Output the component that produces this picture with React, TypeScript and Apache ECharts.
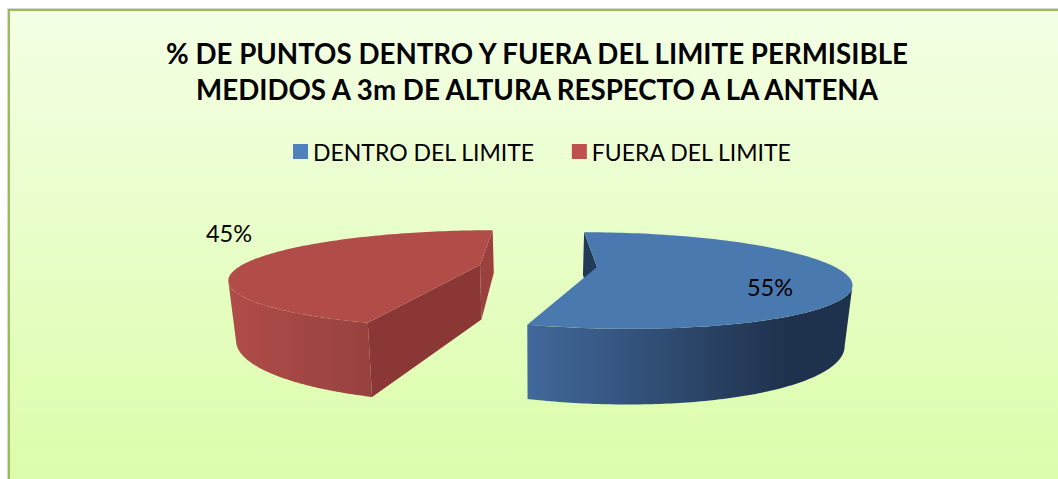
import React, { useEffect, useRef } from "react";
import * as echarts from "echarts";

const categories = ["DENTRO DEL LIMITE", "FUERA DEL LIMITE"];
const values = [55, 45];
const titleLines = [
  "% DE PUNTOS DENTRO Y FUERA DEL LIMITE PERMISIBLE",
  "MEDIDOS A 3m DE ALTURA RESPECTO A LA ANTENA",
];

const WIDTH = 1058;
const HEIGHT = 479;
const FONT = "Lato, Carlito, 'Noto Sans', sans-serif";

// Perspective camera used to project the exploded pie.
const EYE_X = 538;
const TILT = 0.28;
const RADIUS_X = 238;
const RADIUS_Y = 44.5;
const THICKNESS = 54.5;
const BASE_SHRINK = 0.975;
const FRONT_SKEW = 7.2;

// Look of each wedge, in category order. radial = [cut at start angle, cut at end angle].
const wedgeLooks = [
  {
    hub: [597, 267],
    top: "#4A79B0",
    radial: ["#213A58", "#213A58"],
    wall: [
      [0, "#41699B"],
      [0.8, "#1F324D"],
      [1, "#1F324D"],
    ],
    label: [770, 287],
  },
  {
    hub: [480, 265],
    top: "#B14C49",
    radial: ["#8A3735", "#9A413E"],
    wall: [
      [0, "#B04C49"],
      [1, "#97423F"],
    ],
    label: [229, 233],
  },
];

function project(hub: number[], angle: number, r: number) {
  const u = r * Math.sin(angle);
  const v = -r * Math.cos(angle);
  const s = 1 / (1 - TILT * v);
  const dx = hub[0] - EYE_X;
  const skew = (FRONT_SKEW * v * (v + 1)) / 2;
  const x = EYE_X + (dx + RADIUS_X * u + skew) * s;
  const y = hub[1] + RADIUS_Y * v * s;
  return {
    top: [x, y],
    base: [EYE_X + (x - EYE_X) * BASE_SHRINK, y + THICKNESS * s],
  };
}

function signedArea(pts: number[][]) {
  let sum = 0;
  pts.forEach((p, i) => {
    const q = pts[(i + 1) % pts.length];
    sum += p[0] * q[1] - q[0] * p[1];
  });
  return sum;
}

// Angles of the pie's left and right silhouette, which bound the visible outer wall.
function silhouette(hub: number[]) {
  let left = 0;
  let right = 0;
  let minX = Infinity;
  let maxX = -Infinity;
  for (let d = 0; d < 720; d++) {
    const a = (d / 720) * Math.PI * 2;
    const x = project(hub, a, 1).top[0];
    if (x < minX) {
      minX = x;
      left = a;
    }
    if (x > maxX) {
      maxX = x;
      right = a;
    }
  }
  return { left, right };
}

// Draws one wedge as an outer wall, its visible cut faces and the top face.
function wedgeRenderer(index: number) {
  return () => {
    const total = values.reduce((a, b) => a + b, 0);
    const before = values.slice(0, index).reduce((a, b) => a + b, 0);
    const from = (before / total) * Math.PI * 2;
    const to = ((before + values[index]) / total) * Math.PI * 2;
    const look = wedgeLooks[index];
    const steps = 120;

    const arc = [];
    for (let i = 0; i <= steps; i++) {
      arc.push(project(look.hub, from + ((to - from) * i) / steps, 1));
    }
    const hub = project(look.hub, 0, 0);
    const arcTop = arc.map((p) => p.top);

    // Only the front part of the rim is visible.
    const { left, right } = silhouette(look.hub);
    const wallFrom = Math.max(from, right);
    const wallTo = Math.min(to, left);
    const rim = [];
    for (let i = 0; i <= steps; i++) {
      rim.push(project(look.hub, wallFrom + ((wallTo - wallFrom) * i) / steps, 1));
    }
    const rimTop = rim.map((p) => p.top);
    const rimBase = rim.map((p) => p.base);
    const xs = rimTop.concat(rimBase).map((p) => p[0]);
    const minX = Math.min(...xs);
    const maxX = Math.max(...xs);

    const wallFill = new echarts.graphic.LinearGradient(
      minX,
      0,
      maxX,
      0,
      look.wall.map(([offset, color]) => ({ offset: offset as number, color: color as string })),
      true
    );

    const first = arc[0];
    const last = arc[steps];
    const cuts = [
      { pts: [hub.top, first.top, first.base, hub.base], fill: look.radial[0] },
      { pts: [hub.top, hub.base, last.base, last.top], fill: look.radial[1] },
    ].filter((c) => signedArea(c.pts) < 0);

    const poly = (points: number[][], fill: any) => ({
      type: "polygon",
      shape: { points },
      style: { fill, stroke: null },
    });

    return {
      type: "group",
      children: [
        poly(rimTop.concat(rimBase.slice().reverse()), wallFill),
        ...cuts.map((c) => poly(c.pts, c.fill)),
        poly([hub.top, ...arcTop], look.top),
        {
          type: "text",
          x: look.label[0],
          y: look.label[1],
          style: {
            text: `${values[index]}%`,
            font: `23.5px ${FONT}`,
            fill: "#000000",
            textAlign: "center",
            textVerticalAlign: "middle",
          },
        },
      ],
    };
  };
}

export default function App() {
  const ref = useRef<HTMLDivElement>(null);

  useEffect(() => {
    const chart = echarts.init(ref.current!, undefined, { renderer: "svg" });
    chart.setOption({
      animation: false,
      backgroundColor: "#FFFFFF",
      color: ["#4F81BD", "#C0504D"],
      title: {
        text: titleLines.join("\n"),
        left: 537,
        top: 35,
        padding: 0,
        textAlign: "center",
        textStyle: {
          fontFamily: FONT,
          fontSize: 27.7,
          fontWeight: "bold",
          color: "#000000",
          lineHeight: 36,
        },
      },
      legend: {
        data: categories,
        left: 293,
        top: 140,
        padding: 0,
        icon: "rect",
        itemWidth: 15,
        itemHeight: 15,
        itemGap: 37,
        textStyle: { fontFamily: FONT, fontSize: 23, color: "#000000" },
      },
      graphic: [
        {
          type: "rect",
          z: -10,
          shape: { x: 7, y: 8, width: WIDTH, height: HEIGHT },
          style: { fill: "#D9D9D2" },
          silent: true,
        },
        {
          type: "rect",
          z: -9,
          shape: { x: 9, y: 10, width: WIDTH, height: HEIGHT },
          style: {
            fill: new echarts.graphic.LinearGradient(0, 0, 0, 1, [
              { offset: 0, color: "#F4FFE5" },
              { offset: 1, color: "#DBFDA9" },
            ]),
            stroke: "#9BBB59",
            lineWidth: 2,
          },
          silent: true,
        },
      ],
      series: categories.map((name, index) => ({
        type: "custom",
        name,
        coordinateSystem: "none",
        silent: true,
        data: [values[index]],
        renderItem: wedgeRenderer(index),
      })),
    });
    return () => chart.dispose();
  }, []);

  return (
    <div
      ref={ref}
      style={{ position: "absolute", left: 0, top: 0, width: WIDTH, height: HEIGHT }}
    />
  );
}
